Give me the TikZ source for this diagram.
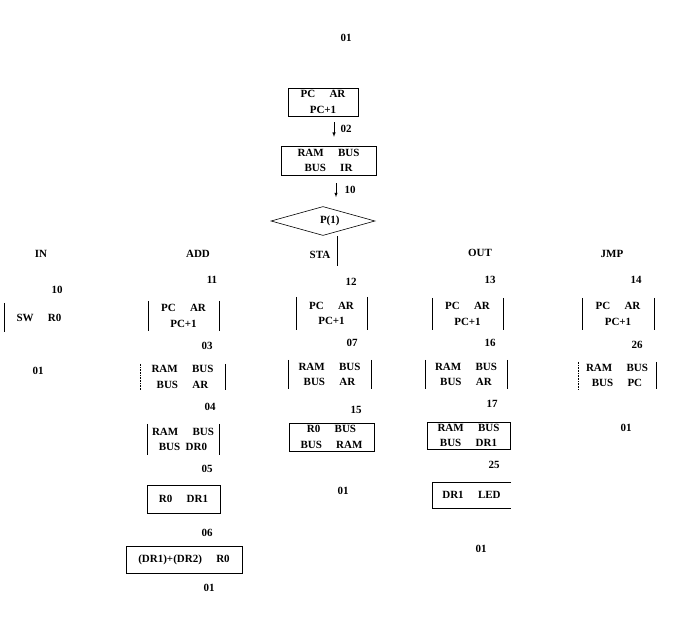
\documentclass[tikz,border=0pt]{standalone}
\usepackage{fontspec}
\setmainfont{Liberation Serif}
\usepackage{tikz}
\usetikzlibrary{shapes.geometric,arrows,positioning}
\tikzstyle{cell} = [rectangle, inner sep=0pt, align=center,
    font=\fontsize{11}{15.5}\selectfont\bfseries]
\tikzstyle{tag} = [inner sep=0pt, font=\fontsize{11}{12}\selectfont\bfseries]
\tikzstyle{line} = [draw, line width=0.6pt]
\tikzstyle{flow} = [draw, -latex, line width=0.5pt]
\newcommand{\gp}{\hspace{1.3em}}

\begin{document}
\begin{tikzpicture}[x=1pt, y=-1pt]
    \useasboundingbox (0,0) rectangle (693,623);

    % Nodes
    \node [tag] (start) at (346,38) {01};
    \node [cell, draw, minimum width=70pt, minimum height=28pt] (fetch) at (323,102) {PC\gp AR\\PC+1};
    \node [tag] (l02) at (346,129) {02};
    \node [cell, draw, minimum width=95pt, minimum height=29pt] (ir) at (328.5,160.5) {RAM\gp BUS\\BUS\gp IR};
    \node [tag] (l10) at (350,190) {10};
    \node [diamond, draw, line width=0.6pt, inner sep=0pt, minimum width=104pt, minimum height=29pt,
        font=\fontsize{11}{12}\selectfont\bfseries] (test) at (323,221) {\makebox[0pt][l]{\hspace{-3pt}P(1)}};
    \coordinate (down) at (337,266);

    % branch names
    \node [tag] (in) at (41,254) {IN};
    \node [tag] (add) at (198,254) {ADD};
    \node [tag] (sta) at (320,255) {STA};
    \node [tag] (out) at (480,253) {OUT};
    \node [tag] (jmp) at (612,254) {JMP};

    % IN
    \node [tag] (i10) at (57,290) {10};
    \node [cell, minimum width=70pt, minimum height=29pt] (i1) at (39,317.5) {SW\gp R0};
    \node [tag] (i01) at (38,371) {01};

    % ADD
    \node [tag] (a11) at (212,280) {11};
    \node [cell, minimum width=71pt, minimum height=30pt] (a1) at (183.5,316) {PC\gp AR\\PC+1};
    \node [tag] (a03) at (207,346) {03};
    \node [cell, minimum width=85pt, minimum height=26pt] (a2) at (182.5,377) {RAM\gp BUS\\BUS\gp AR};
    \node [tag] (a04) at (210,407) {04};
    \node [cell, minimum width=72pt, minimum height=31pt] (a3) at (183,439.5) {RAM\gp BUS\\BUS\hspace{0.5em}DR0};
    \node [tag] (a05) at (207,469) {05};
    \node [cell, minimum width=73pt, minimum height=28pt] (a4) at (183.5,499) {R0\gp DR1};
    \node [tag] (a06) at (207,533) {06};
    \node [cell, minimum width=116pt, minimum height=27pt] (a5) at (184,559.5) {(DR1)+(DR2)\gp R0};
    \node [tag] (a01) at (209,588) {01};

    % STA
    \node [tag] (s12) at (351,282) {12};
    \node [cell, minimum width=71pt, minimum height=33pt] (s1) at (331.5,313.5) {PC\gp AR\\PC+1};
    \node [tag] (s07) at (352,343) {07};
    \node [cell, minimum width=83pt, minimum height=29pt] (s2) at (329.5,374.5) {RAM\gp BUS\\BUS\gp AR};
    \node [tag] (s15) at (356,410) {15};
    \node [cell, draw, line width=0.6pt, minimum width=85pt, minimum height=28pt] (s3) at (331.5,437) {R0\gp BUS\\BUS\gp RAM};
    \node [tag] (s01) at (343,491) {01};

    % OUT
    \node [tag] (o13) at (490,280) {13};
    \node [cell, minimum width=71pt, minimum height=32pt] (o1) at (467.5,314) {PC\gp AR\\PC+1};
    \node [tag] (o16) at (490,343) {16};
    \node [cell, minimum width=82pt, minimum height=29pt] (o2) at (466,374.5) {RAM\gp BUS\\BUS\gp AR};
    \node [tag] (o17) at (492,404) {17};
    \node [cell, draw, line width=0.6pt, minimum width=83pt, minimum height=27pt] (o3) at (468.5,435.5) {RAM\gp BUS\\BUS\gp DR1};
    \node [tag] (o25) at (494,465) {25};
    \node [cell, minimum width=79pt, minimum height=26pt] (o4) at (471.5,495) {DR1\gp LED};
    \node [tag] (o01) at (481,549) {01};

    % JMP
    \node [tag] (j14) at (636,280) {14};
    \node [cell, minimum width=72pt, minimum height=32pt] (j1) at (618,314) {PC\gp AR\\PC+1};
    \node [tag] (j26) at (637,345) {26};
    \node [cell, minimum width=78pt, minimum height=27pt] (j2) at (617,375.5) {RAM\gp BUS\\BUS\gp PC};
    \node [tag] (j01) at (626,428) {01};

    % box edges
    \foreach \n in {a1,a3,s1,s2,o1,o2,j1}
        \path [line] (\n.north west) -- (\n.south west) (\n.north east) -- (\n.south east);
    \foreach \n in {a2,j2}
        \path [line] (\n.north east) -- (\n.south east);
    \foreach \n in {a2,j2}
        \path [line, densely dotted] (\n.north west) -- (\n.south west);
    \path [line] (i1.north west) -- (i1.south west);
    \path [line] (a4.north west) rectangle (a4.south east);
    \path [line] (a5.north west) rectangle (a5.south east);
    \path [line] (o4.north east) -- (o4.north west) -- (o4.south west) -- (o4.south east);

    % Edges
    \path [flow, shorten <=6pt, shorten >=9pt] ([xshift=11pt]fetch.south) -- ([xshift=11pt]fetch.south |- ir.north);
    \path [flow, shorten <=8pt, shorten >=9pt] ([xshift=7.5pt]ir.south) -- ([xshift=7.5pt]ir.south |- test.north);
    \path [line] (test.south -| down) -- (down);
\end{tikzpicture}
\end{document}
